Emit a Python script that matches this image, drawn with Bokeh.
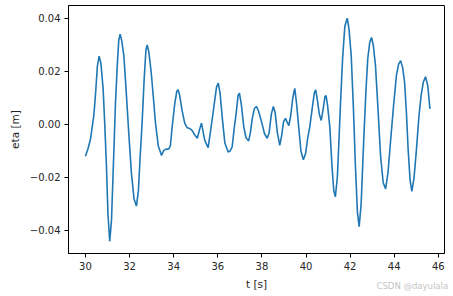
from bokeh.plotting import figure
from bokeh.models import FixedTicker, Title, Range1d
from bokeh.embed import file_html
from bokeh.resources import INLINE

t = [30.00, 30.12, 30.23, 30.32, 30.38, 30.46, 30.54, 30.62, 30.70, 30.80,
     30.88, 30.95, 31.02, 31.10, 31.18, 31.28, 31.36, 31.44, 31.51, 31.57,
     31.64, 31.74, 31.85, 31.96, 32.08, 32.20, 32.31, 32.40, 32.48, 32.57,
     32.66, 32.74, 32.80, 32.87, 32.98, 33.08, 33.17, 33.30, 33.45, 33.55,
     33.63, 33.78, 33.85, 33.93, 34.05, 34.14, 34.20, 34.27, 34.38, 34.50,
     34.61, 34.72, 34.84, 34.96, 35.07, 35.17, 35.26, 35.34, 35.41, 35.56,
     35.68, 35.82, 35.94, 36.02, 36.10, 36.20, 36.32, 36.47, 36.56, 36.65,
     36.75, 36.83, 36.92, 36.98, 37.06, 37.18, 37.28, 37.40, 37.48, 37.56,
     37.66, 37.75, 37.85, 38.00, 38.12, 38.24, 38.33, 38.43, 38.52, 38.60,
     38.70, 38.81, 38.90, 38.98, 39.07, 39.15, 39.22, 39.30, 39.40, 39.49,
     39.57, 39.67, 39.77, 39.88, 39.98, 40.08, 40.17, 40.28, 40.38, 40.44,
     40.52, 40.60, 40.69, 40.78, 40.86, 40.91, 40.98, 41.08, 41.18, 41.26,
     41.33, 41.42, 41.50, 41.56, 41.66, 41.76, 41.87, 41.95, 42.05, 42.15,
     42.24, 42.33, 42.41, 42.50, 42.62, 42.72, 42.80, 42.89, 42.97, 43.05,
     43.15, 43.27, 43.38, 43.50, 43.61, 43.72, 43.83, 43.97, 44.10, 44.20,
     44.29, 44.38, 44.47, 44.55, 44.63, 44.72, 44.80, 44.90, 45.01, 45.12,
     45.22, 45.32, 45.42, 45.52, 45.62]

eta = [-0.0120, -0.0090, -0.0054, 0.0000, 0.0034, 0.0120, 0.0220, 0.0258, 0.0230, 0.0135,
       -0.0010, -0.0155, -0.0340, -0.0441, -0.0360, -0.0117, 0.0080, 0.0222, 0.0318, 0.0341,
       0.0318, 0.0260, 0.0120, -0.0029, -0.0180, -0.0280, -0.0308, -0.0250, -0.0120, 0.0009,
       0.0170, 0.0280, 0.0300, 0.0275, 0.0197, 0.0100, 0.0009, -0.0080, -0.0117, -0.0098,
       -0.0094, -0.0092, -0.0080, -0.0010, 0.0080, 0.0125, 0.0131, 0.0110, 0.0053, 0.0005,
       -0.0012, -0.0015, -0.0023, -0.0040, -0.0052, -0.0020, 0.0005, -0.0030, -0.0060, -0.0088,
       -0.0020, 0.0065, 0.0140, 0.0156, 0.0120, 0.0028, -0.0070, -0.0104, -0.0100, -0.0085,
       -0.0010, 0.0040, 0.0110, 0.0118, 0.0080, -0.0010, -0.0050, -0.0062, -0.0030, 0.0021,
       0.0060, 0.0068, 0.0050, 0.0005, -0.0035, -0.0052, -0.0030, 0.0040, 0.0068, 0.0045,
       -0.0030, -0.0079, -0.0040, 0.0010, 0.0023, 0.0008, -0.0004, 0.0030, 0.0100, 0.0136,
       0.0080, -0.0010, -0.0100, -0.0133, -0.0110, -0.0050, -0.0010, 0.0060, 0.0120, 0.0131,
       0.0090, 0.0040, 0.0015, 0.0060, 0.0105, 0.0109, 0.0070, -0.0010, -0.0160, -0.0250,
       -0.0273, -0.0200, -0.0050, 0.0072, 0.0250, 0.0370, 0.0401, 0.0360, 0.0260, 0.0060,
       -0.0155, -0.0330, -0.0386, -0.0300, -0.0054, 0.0130, 0.0248, 0.0310, 0.0328, 0.0300,
       0.0223, 0.0050, -0.0117, -0.0220, -0.0243, -0.0180, -0.0067, 0.0070, 0.0185, 0.0228,
       0.0241, 0.0215, 0.0160, 0.0050, -0.0092, -0.0210, -0.0253, -0.0200, -0.0092, 0.0030,
       0.0109, 0.0160, 0.0180, 0.0147, 0.0059]

x_ticks = [30, 32, 34, 36, 38, 40, 42, 44, 46]
y_ticks = [-0.04, -0.02, 0.0, 0.02, 0.04]
y_tick_labels = ["\u22120.04", "\u22120.02", "0.00", "0.02", "0.04"]

FONT = "DejaVu Sans"
TXT = "#262626"

x_lo, x_hi = 29.23, 46.28
y_lo, y_hi = -0.0487, 0.0449

p = figure(width=453, height=296, output_backend="svg", toolbar_location=None,
           x_range=Range1d(x_lo, x_hi), y_range=Range1d(y_lo, y_hi),
           min_border_left=68, min_border_right=9, min_border_top=5, min_border_bottom=43)
p.background_fill_color = "white"
p.border_fill_color = "white"
p.outline_line_color = "#000000"
p.outline_line_width = 1
p.grid.visible = False

p.line(t, eta, line_color="#1f77b4", line_width=1.6)

for ax in (p.xaxis[0], p.yaxis[0]):
    ax.axis_line_color = "#000000"
    ax.major_tick_in = 0
    ax.major_tick_out = 4
    ax.minor_tick_line_color = None
    ax.major_tick_line_color = "#000000"
    ax.major_label_text_font = FONT
    ax.major_label_text_font_size = "10px"
    ax.major_label_text_color = TXT
    ax.axis_label_text_font = FONT
    ax.axis_label_text_font_size = "10.5px"
    ax.axis_label_text_font_style = "normal"
    ax.axis_label_text_color = TXT

p.xaxis[0].ticker = FixedTicker(ticks=x_ticks)
p.xaxis[0].major_label_overrides = {v: str(v) for v in x_ticks}
p.xaxis[0].axis_label = "t [s]"
p.xaxis[0].major_label_standoff = 4
p.xaxis[0].axis_label_standoff = 5

p.yaxis[0].ticker = FixedTicker(ticks=y_ticks)
p.yaxis[0].major_label_overrides = {v: s for v, s in zip(y_ticks, y_tick_labels)}
p.yaxis[0].axis_label = "eta [m]"
p.yaxis[0].major_label_standoff = 4
p.yaxis[0].axis_label_standoff = 6

wm = Title(text="CSDN @dayulala", align="left", offset=308, standoff=-24,
           vertical_align="top", text_font=FONT, text_font_size="8.5px",
           text_font_style="normal", text_color="#c4c4c4")
p.add_layout(wm, "below")

open("out.html", "w").write(file_html(p, INLINE))
